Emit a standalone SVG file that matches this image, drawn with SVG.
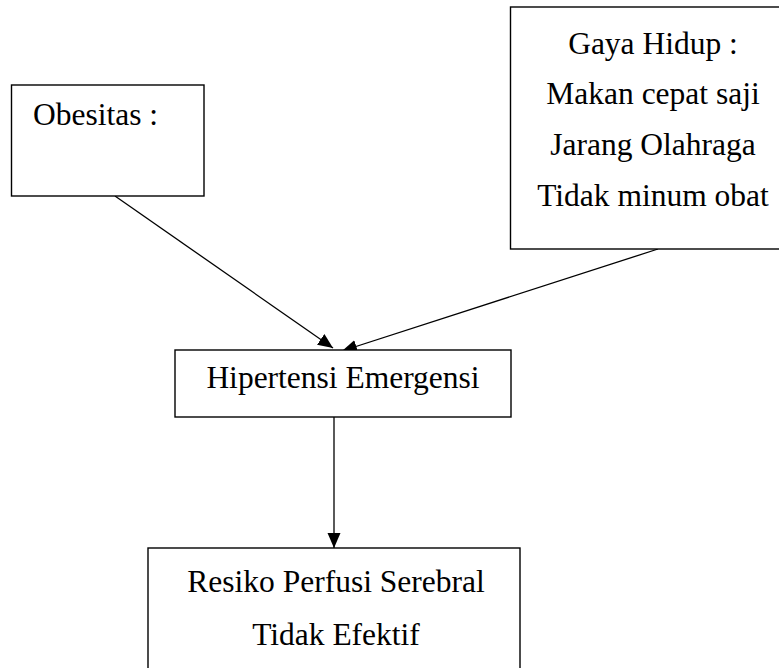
<svg xmlns="http://www.w3.org/2000/svg" width="779" height="668" viewBox="0 0 779 668">
<defs>
<marker id="arr" markerWidth="16" markerHeight="14" refX="15" refY="6.5" orient="auto" markerUnits="userSpaceOnUse">
<path d="M0,0 L15,6.5 L0,13 z" fill="#000"/>
</marker>
<style>
.box{fill:#fff;stroke:#000;stroke-width:1.4}
.t{font-family:"Liberation Serif","Times New Roman",serif;font-size:31.5px;fill:#000}
.c{text-anchor:middle}
.ln{stroke:#000;stroke-width:1.3;fill:none;marker-end:url(#arr)}
</style>
</defs>
<rect width="779" height="668" fill="#fff"/>
<g id="connectors">
<line class="ln" x1="115" y1="196" x2="333" y2="348"/>
<line class="ln" x1="658" y1="249" x2="342" y2="351"/>
<line class="ln" x1="334" y1="417" x2="334" y2="548"/>
</g>
<g id="obesitas">
<rect class="box" x="11.5" y="85" width="192.5" height="111"/>
<text class="t" x="33" y="125">Obesitas :</text>
</g>
<g id="gaya-hidup">
<rect class="box" x="510.5" y="7" width="290" height="242"/>
<text class="t c" x="653" y="54">Gaya Hidup :</text>
<text class="t c" x="653" y="104">Makan cepat saji</text>
<text class="t c" x="653" y="155">Jarang Olahraga</text>
<text class="t c" x="653" y="206">Tidak minum obat</text>
</g>
<g id="hipertensi">
<rect class="box" x="175" y="350" width="336" height="67"/>
<text class="t c" x="343" y="388">Hipertensi Emergensi</text>
</g>
<g id="resiko">
<rect class="box" x="148" y="548" width="372" height="140"/>
<text class="t c" x="336" y="592">Resiko Perfusi Serebral</text>
<text class="t c" x="336" y="645">Tidak Efektif</text>
</g>
</svg>
